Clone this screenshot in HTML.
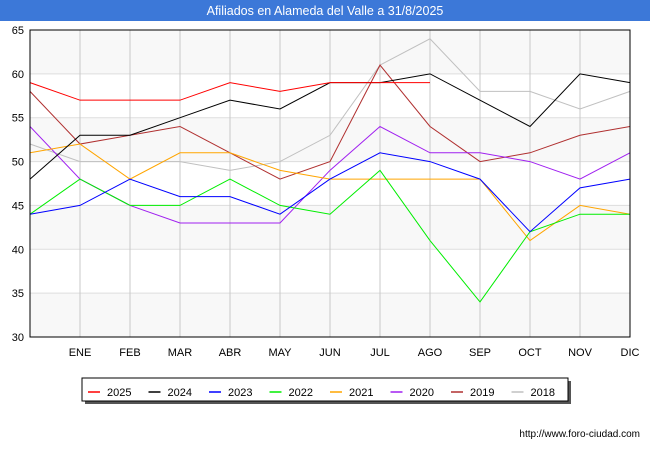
<!DOCTYPE html>
<html><head><meta charset="utf-8"><style>
body{margin:0;width:650px;height:450px;background:#fff;font-family:"Liberation Sans",sans-serif;overflow:hidden}
</style></head><body>
<svg id="c" width="650" height="450" xmlns="http://www.w3.org/2000/svg">
<rect x="0" y="0" width="650" height="21" fill="#3c78d8"/>
<text x="325" y="15" text-anchor="middle" fill="#fff" font-size="12.5">Afiliados en Alameda del Valle a 31/8/2025</text>
<g id="plot"></g>
<text x="640" y="437" text-anchor="end" font-size="10" fill="#000">http://www.foro-ciudad.com</text>
</svg>
<script>
const months=["","ENE","FEB","MAR","ABR","MAY","JUN","JUL","AGO","SEP","OCT","NOV","DIC"];
const yTicks=[30,35,40,45,50,55,60,65];
const seriesNames=["2025","2024","2023","2022","2021","2020","2019","2018"];
const seriesColors=["#ff0000","#000000","#0000ff","#00ee00","#ffa500","#a020f0","#b03030","#c0c0c0"];
const s2025=[59,57,57,57,59,58,59,59,59];
const s2024=[48,53,53,55,57,56,59,59,60,57,54,60,59];
const s2023=[44,45,48,46,46,44,48,51,50,48,42,47,48];
const s2022=[44,48,45,45,48,45,44,49,41,34,42,44,44];
const s2021=[51,52,48,51,51,49,48,48,48,48,41,45,44];
const s2020=[54,48,45,43,43,43,49,54,51,51,50,48,51];
const s2019=[58,52,53,54,51,48,50,61,54,50,51,53,54];
const s2018=[52,50,50,50,49,50,53,61,64,58,58,56,58];
const allSeries=[s2025,s2024,s2023,s2022,s2021,s2020,s2019,s2018];
const NS="http://www.w3.org/2000/svg";
const L=30,R=630,T=30,B=337;
const x=i=>L+i*(R-L)/(months.length-1);
const y=v=>B-(v-30)*(B-T)/35;
const g=document.getElementById('plot');
function mk(t,a){const e=document.createElementNS(NS,t);for(const k in a)e.setAttribute(k,a[k]);g.appendChild(e);return e;}
for(let i=0;i<yTicks.length-1;i++){
 const r=mk('rect',{x:L,y:y(yTicks[i+1]),width:R-L,height:y(yTicks[i])-y(yTicks[i+1]),fill:(i%2==0)?'#f8f8f8':'#ffffff'});
 
 
}
yTicks.forEach(v=>{
 const l=mk('line',{x1:L,x2:R,y1:y(v),y2:y(v),stroke:'#dddddd'});
 
 
 const t=mk('text',{x:L-6,y:y(v)+4,'text-anchor':'end','font-size':'11',fill:'#000'});
 t.textContent=v;
 
 
});
months.forEach((m,i)=>{
 if(i>0&&i<months.length-1){const l=mk('line',{x1:x(i),x2:x(i),y1:T,y2:B,stroke:'#c8c8c8'});
 
 }
 if(m){const t=mk('text',{x:x(i),y:B+19,'text-anchor':'middle','font-size':'11',fill:'#000'});
 t.textContent=m;
 
 }
});
for(let k=allSeries.length-1;k>=0;k--){
 const p=mk('polyline',{points:allSeries[k].map((v,i)=>x(i)+','+y(v)).join(' '),fill:'none',stroke:seriesColors[k],'stroke-width':'1'});
 
 
}
const fr=mk('rect',{x:L,y:T,width:R-L,height:B-T,fill:'none',stroke:'#000'});


const sh=mk('rect',{x:85,y:381,width:486,height:23,fill:'#555'});


const lb=mk('rect',{x:82,y:378,width:486,height:23,fill:'#fff',stroke:'#000'});


seriesNames.forEach((n,k)=>{
 const bx=88+k*60.5;
 const ll=mk('line',{x1:bx,x2:bx+12,y1:392,y2:392,stroke:seriesColors[k],'stroke-width':'1.5'});
 
 
 const t=mk('text',{x:bx+19,y:396,'font-size':'11',fill:'#000'});
 t.textContent=n;
 
 
});
</script>
</body></html>
